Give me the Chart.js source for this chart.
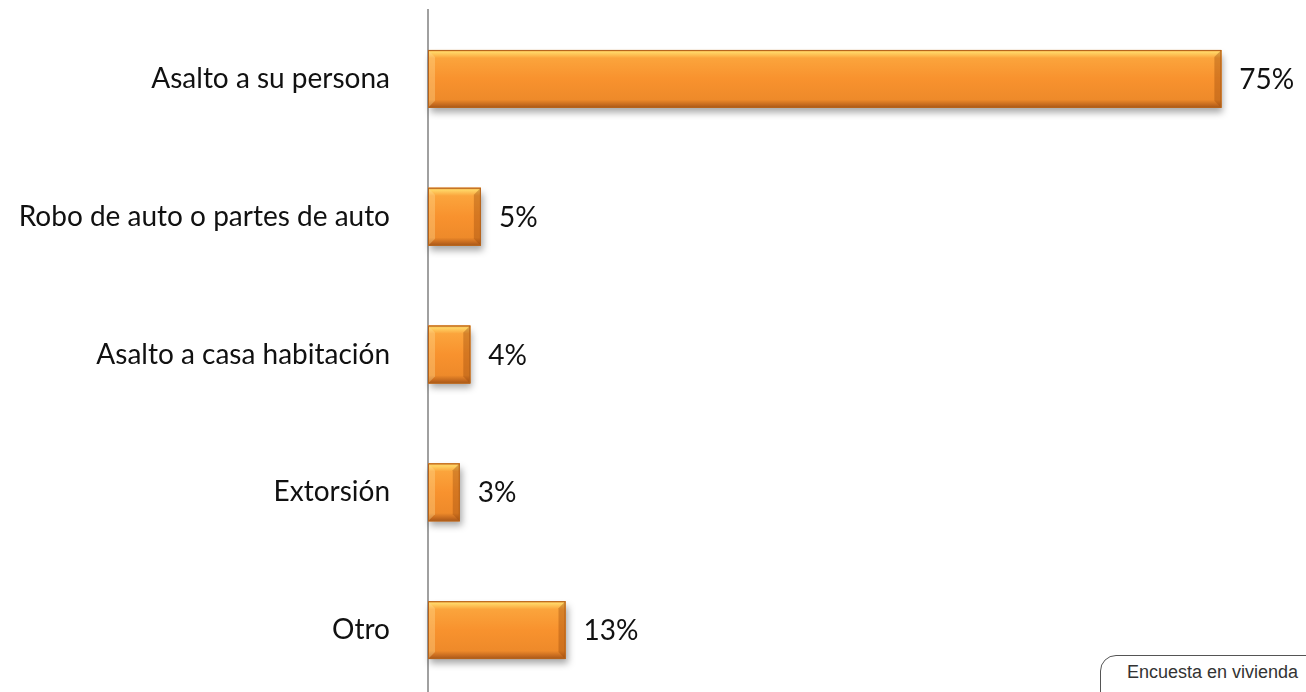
<!DOCTYPE html>
<html>
<head>
<meta charset="utf-8">
<script src="https://cdn.jsdelivr.net/npm/chart.js@4.4.1/dist/chart.umd.min.js"></script>
<style>
  html, body { margin: 0; padding: 0; background: #fff; overflow: hidden; }
  #wrap { position: relative; width: 1306px; height: 700px; }
  #note {
    position: absolute; left: 1100px; top: 655px; width: 240px; height: 60px;
    border: 1px solid #555; border-top-left-radius: 16px; box-sizing: border-box;
    font-family: "Liberation Sans", Arial, sans-serif; font-size: 18px; color: #333;
    padding: 6px 0 0 26px; background: #fff; white-space: nowrap;
  }
</style>
</head>
<body>
<div id="wrap">
  <canvas id="chart" width="1306" height="700"></canvas>
  <div id="note">Encuesta en vivienda</div>
</div>
<script>
var categories = ["Asalto a su persona", "Robo de auto o partes de auto", "Asalto a casa habitación", "Extorsión", "Otro"];
var values = [75, 5, 4, 3, 13];
var valueLabels = ["75%", "5%", "4%", "3%", "13%"];

var labelFont = "Lato, 'Open Sans', sans-serif";

// bevel-like shading over each bar
var bevelPlugin = {
  id: 'bevel',
  beforeDatasetsDraw: function(chart) {
    var ctx = chart.ctx;
    ctx.save();
    ctx.shadowColor = 'rgba(0,0,0,0.35)';
    ctx.shadowBlur = 7;
    ctx.shadowOffsetY = 5;
    ctx.shadowOffsetX = 2;
    ctx.fillStyle = '#d07a25';
    chart.getDatasetMeta(0).data.forEach(function(bar) {
      var h = bar.height;
      ctx.fillRect(bar.base, bar.y - h / 2, bar.x - bar.base, h);
    });
    ctx.restore();
  },
  afterDatasetsDraw: function(chart) {
    var ctx = chart.ctx;
    var meta = chart.getDatasetMeta(0);
    ctx.save();
    meta.data.forEach(function(bar, i) {
      var h = bar.height;
      var top = bar.y - h / 2;
      var w = bar.x - bar.base;
      var g = ctx.createLinearGradient(0, top, 0, top + h);
      g.addColorStop(0, '#f0a040');
      g.addColorStop(0.04, '#ffd566');
      g.addColorStop(0.14, '#fba43c');
      g.addColorStop(0.5, '#f8922e');
      g.addColorStop(0.86, '#ee8a2a');
      g.addColorStop(0.95, '#c2681e');
      g.addColorStop(1, '#a55618');
      ctx.fillStyle = g;
      ctx.fillRect(bar.base, top, w, h);
      // side bevels
      var b = 7;
      ctx.fillStyle = 'rgba(255,220,150,0.35)';
      ctx.beginPath();
      ctx.moveTo(bar.base, top);
      ctx.lineTo(bar.base + b, top + b);
      ctx.lineTo(bar.base + b, top + h - b);
      ctx.lineTo(bar.base, top + h);
      ctx.closePath();
      ctx.fill();
      ctx.fillStyle = 'rgba(150,70,10,0.35)';
      ctx.beginPath();
      ctx.moveTo(bar.x, top);
      ctx.lineTo(bar.x - b, top + b);
      ctx.lineTo(bar.x - b, top + h - b);
      ctx.lineTo(bar.x, top + h);
      ctx.closePath();
      ctx.fill();
      ctx.strokeStyle = '#b5631c';
      ctx.lineWidth = 1;
      ctx.strokeRect(bar.base + 0.5, top + 0.5, w - 1, h - 1);

      ctx.fillStyle = '#111';
      ctx.font = '28px ' + labelFont;
      ctx.textAlign = 'left';
      ctx.textBaseline = 'middle';
      ctx.fillText(valueLabels[i], bar.x + 18, bar.y + 1);
    });
    ctx.restore();
  }
};

new Chart(document.getElementById('chart'), {
  type: 'bar',
  data: {
    labels: categories,
    datasets: [{
      data: values,
      backgroundColor: '#f8922e',
      borderWidth: 0,
      categoryPercentage: 1,
      barPercentage: 0.42
    }]
  },
  options: {
    indexAxis: 'y',
    responsive: false,
    animation: false,
    layout: { padding: { top: 10, bottom: 1, left: 0, right: 0 } },
    plugins: { legend: { display: false }, tooltip: { enabled: false } },
    scales: {
      x: { display: false, min: 0, max: 83 },
      y: {
        grid: { display: false },
        border: { color: '#a0a0a0', width: 2 },
        ticks: { color: '#111', font: { family: labelFont, size: 28 }, padding: 30 },
        afterFit: function(scale) {
          scale.width = 428;
          scale.paddingTop = 0;
          scale.paddingBottom = 0;
        }
      }
    }
  },
  plugins: [bevelPlugin]
});
</script>
</body>
</html>
